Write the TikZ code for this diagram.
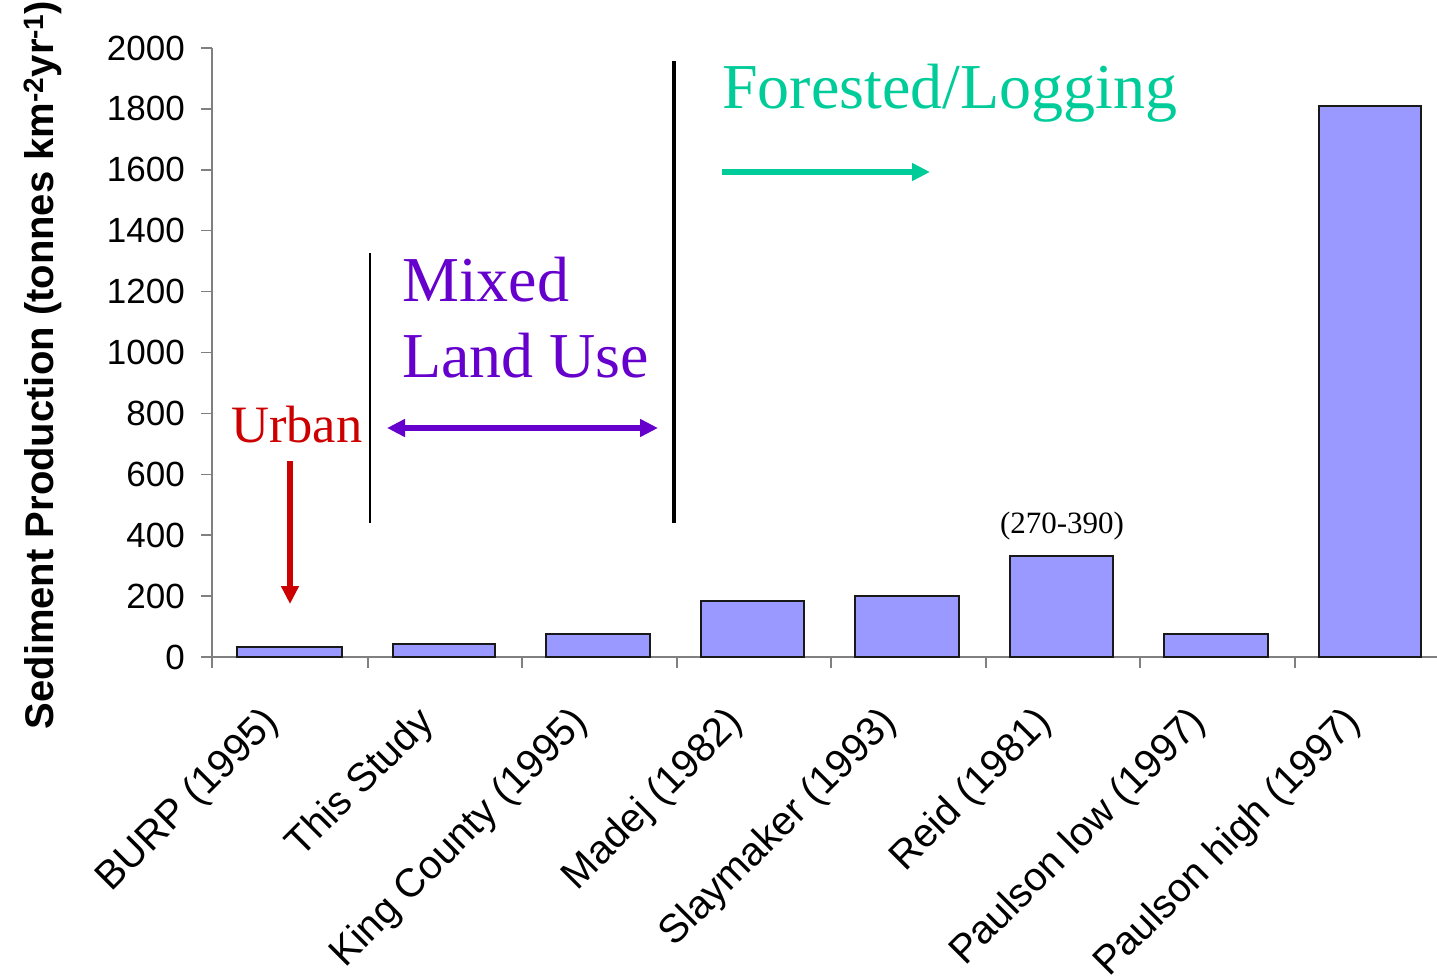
\documentclass[tikz,border=0pt]{standalone}
\usepackage{fontspec}
\setmainfont{Liberation Serif}
\setsansfont{Liberation Sans}
\usetikzlibrary{arrows.meta}

\definecolor{urbanred}{HTML}{CC0000}
\definecolor{mixpurple}{HTML}{6600CC}
\definecolor{forestgreen}{HTML}{00CC99}
\definecolor{barblue}{HTML}{9999FF}
\definecolor{axisgray}{HTML}{808080}

\tikzset{
  axisline/.style={draw=axisgray, line width=1.6pt},
  bar/.style={draw=black!90, line width=2pt, fill=barblue},
  ticklab/.style={font=\sffamily\fontsize{35}{35}\selectfont, anchor=east, inner sep=0pt},
  catlab/.style={font=\sffamily\fontsize{40}{40}\selectfont, rotate=45, anchor=east, inner sep=0pt},
  divider/.style={draw=black, line cap=butt},
  bigarrow/.style={line width=6pt, -{Triangle[length=18pt,width=17pt]}},
  biglabel/.style={font=\fontsize{64}{76}\selectfont, inner sep=0pt, anchor=base west, align=left},
}

\begin{document}
\begin{tikzpicture}[x=1pt,y=-1pt]
\useasboundingbox[fill=white] (0,0) rectangle (1437,979);

% value axis and its ticks (0..2000 step 200)
\draw[axisline] (212,48) -- (212,668);
\foreach \v [evaluate=\v as \yy using 657-0.3045*\v] in {0,200,...,2000}{
  \draw[axisline] (201,\yy) -- (212,\yy);
  \node[ticklab] (t\v) at (185,\yy) {\v};
}

% category axis
\draw[axisline] (212,657) -- (1437,657);
\foreach \xx in {368,522,677,831,986,1140,1295}{
  \draw[axisline] (\xx,657) -- (\xx,668);
}

% bars
\foreach \l/\r/\v in {237/342/33, 393/495/43, 546/650/76, 701/804/185,
                      855/959/200, 1010/1113/331, 1164/1268/75, 1319/1421/1810}{
  \draw[bar] (\l,657) rectangle (\r,{657-0.3045*\v});
}

% category labels
\foreach \c/\t in {290/BURP (1995), 445/This Study, 599/King County (1995),
                   754/Madej (1982), 908/Slaymaker (1993), 1063/Reid (1981),
                   1217/Paulson low (1997), 1372/Paulson high (1997)}{
  \node[catlab] at (\c-17,717) {\t};
}

% axis title
\node[font=\sffamily\bfseries\fontsize{40}{40}\selectfont, rotate=90, anchor=base, inner sep=0pt]
  (ytitle) at (53,365) {Sediment Production (tonnes km\textsuperscript{-2}yr\textsuperscript{-1})};

% range note above the Reid bar
\node[font=\fontsize{31}{32}\selectfont, anchor=base, inner sep=0pt] (range) at (1062,533) {(270-390)};

% land-use dividers
\coordinate (d1top) at (370,253);
\coordinate (d1bot) at (370,523);
\coordinate (d2top) at (674,61);
\coordinate (d2bot) at (674,523);
\draw[divider, line width=2.4pt] (d1top) -- (d1bot);
\draw[divider, line width=3.4pt] (d2top) -- (d2bot);

% Urban
\node[biglabel, text=urbanred, font=\fontsize{52.5}{60}\selectfont] (urban) at (231,442) {Urban};
\coordinate (ua) at (290,461);
\coordinate (ub) at (290,604);
\draw[bigarrow, urbanred] (ua) -- (ub);

% Mixed land use
\node[biglabel, text=mixpurple] (mixed) at (402,377) {Mixed\\Land Use};
\coordinate (ma) at (387,428);
\coordinate (mb) at (658,428);
\draw[line width=6pt, mixpurple, {Triangle[length=18pt,width=17pt]}-{Triangle[length=18pt,width=17pt]}] (ma) -- (mb);

% Forested / logging
\node[biglabel, text=forestgreen] (forest) at (722,109) {Forested/Logging};
\coordinate (fa) at (722,172);
\coordinate (fb) at (930,172);
\draw[bigarrow, forestgreen] (fa) -- (fb);
\end{tikzpicture}
\end{document}
